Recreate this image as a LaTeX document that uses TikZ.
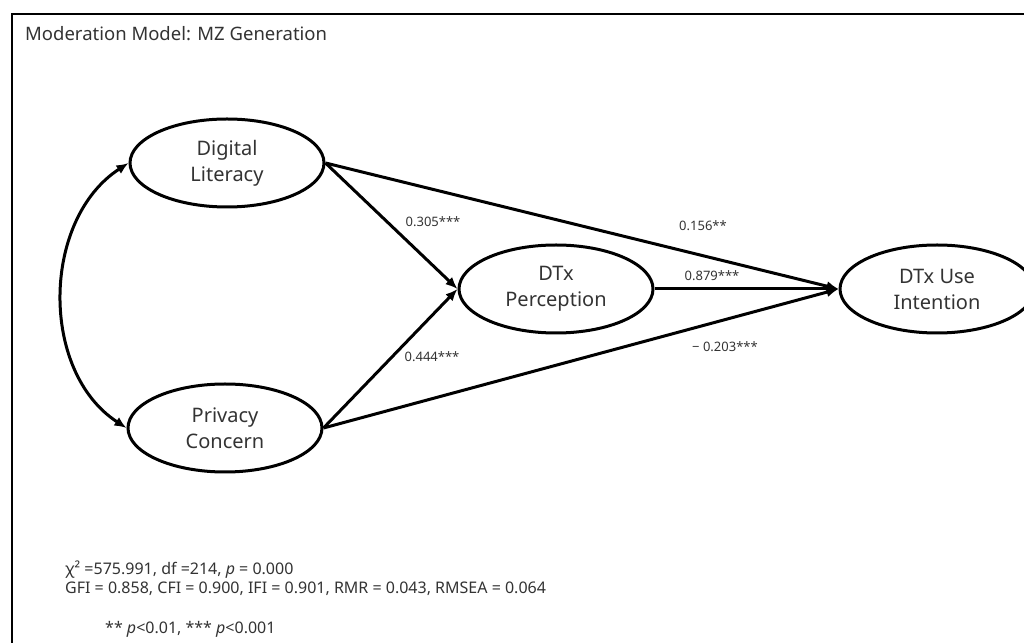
\documentclass[tikz,border=0pt]{standalone}
\usepackage{fontspec}
\setmainfont{Noto Sans}
\usetikzlibrary{arrows.meta,shapes.geometric}

\begin{document}
\begin{tikzpicture}[x=1pt,y=1pt,
    latent/.style={ellipse,draw,line width=3pt,minimum width=194pt,minimum height=88pt,
      inner sep=0pt,align=center,text=black!80,font=\fontsize{20}{26}\selectfont},
    effect/.style={line width=3pt,-{Latex[length=12pt,width=10pt]}},
    coef/.style={text=black!80,font=\fontsize{13}{15}\selectfont},
    fitline/.style={anchor=west,inner sep=0pt,text=black!80,font=\fontsize{16}{19}\selectfont}]
  %%%%% START %%%%%
  \useasboundingbox (0,0) rectangle (1024,642);
  \draw[line width=2pt] (12,-5) -- (12,628) -- (1030,628);

  \node[anchor=west,inner sep=0pt,text=black!80,font=\fontsize{18.5}{22}\selectfont] (title) at (25,608) {Moderation Model: MZ Generation};

  % latent variables
  \node[latent] (dl) at (227,479) {Digital\\Literacy};
  \node[latent] (pc) at (225,214) {Privacy\\Concern};
  \node[latent] (dp) at (556,353) {DTx\\Perception};
  \node[latent] (du) at (937,353) {DTx Use\\Intention};

  % paths
  \draw[effect] (dl.east) -- (dp.west);
  \draw[effect] (pc.east) -- (dp.west);
  \draw[effect] (dl.east) -- (du.west);
  \draw[effect] (dp.east) -- (du.west);
  \draw[effect] (pc.east) -- (du.west);
  \draw[line width=3pt,{Latex[length=12pt,width=10pt]}-{Latex[length=12pt,width=10pt]}]
    (dl.west) to[out=213,in=147] (pc.west);

  % coefficients
  \node[coef] (c1) at (433,420) {0.305***};
  \node[coef] (c2) at (432,285) {0.444***};
  \node[coef] (c3) at (703,416) {0.156**};
  \node[coef] (c4) at (712,366) {0.879***};
  \node[coef] (c5) at (725,295) {− 0.203***};

  % fit indices
  \node[fitline] (chi) at (65,72) {χ² =575.991, df =214, \textit{p} = 0.000};
  \node[fitline] (gfi) at (65,53) {GFI = 0.858, CFI = 0.900, IFI = 0.901, RMR = 0.043, RMSEA = 0.064};
  \node[fitline] (sig) at (105,13) {** \textit{p}<0.01, *** \textit{p}<0.001};
  %%%%% END %%%%%
\end{tikzpicture}
\end{document}
